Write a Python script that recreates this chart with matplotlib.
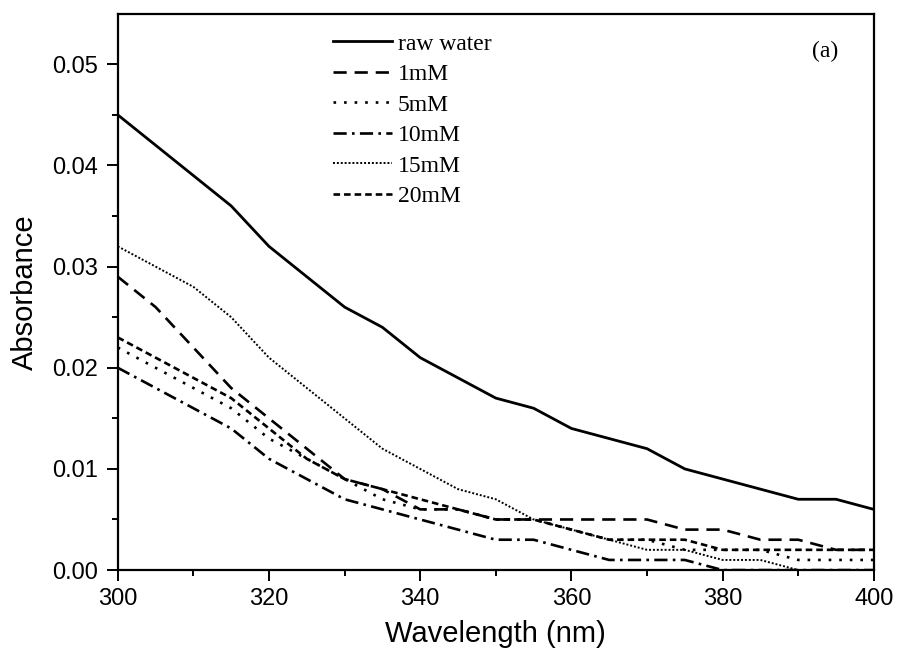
import matplotlib.pyplot as plt
import numpy as np

wl = np.arange(300, 401, 5)

raw_water = [0.045, 0.042, 0.039, 0.036, 0.032, 0.029, 0.026, 0.024, 0.021, 0.019, 0.017,
             0.016, 0.014, 0.013, 0.012, 0.010, 0.009, 0.008, 0.007, 0.007, 0.006]
mm1 = [0.029, 0.026, 0.022, 0.018, 0.015, 0.012, 0.009, 0.008, 0.006, 0.006, 0.005,
       0.005, 0.005, 0.005, 0.005, 0.004, 0.004, 0.003, 0.003, 0.002, 0.002]
mm5 = [0.022, 0.020, 0.018, 0.016, 0.013, 0.011, 0.009, 0.007, 0.006, 0.006, 0.005,
       0.005, 0.004, 0.003, 0.003, 0.002, 0.002, 0.002, 0.001, 0.001, 0.001]
mm10 = [0.020, 0.018, 0.016, 0.014, 0.011, 0.009, 0.007, 0.006, 0.005, 0.004, 0.003,
        0.003, 0.002, 0.001, 0.001, 0.001, 0.000, 0.000, 0.000, 0.000, 0.000]
mm15 = [0.032, 0.030, 0.028, 0.025, 0.021, 0.018, 0.015, 0.012, 0.010, 0.008, 0.007,
        0.005, 0.004, 0.003, 0.002, 0.002, 0.001, 0.001, 0.000, 0.000, 0.000]
mm20 = [0.023, 0.021, 0.019, 0.017, 0.014, 0.011, 0.009, 0.008, 0.007, 0.006, 0.005,
        0.005, 0.004, 0.003, 0.003, 0.003, 0.002, 0.002, 0.002, 0.002, 0.002]

labels = ["raw water", "1mM", "5mM", "10mM", "15mM", "20mM"]

fig = plt.figure(figsize=(8.99, 6.53), dpi=100)
ax = fig.add_axes([0.131, 0.127, 0.841, 0.852])

ax.plot(wl, raw_water, 'k-', lw=2.0)
ax.plot(wl, mm1, 'k', lw=1.9, dashes=(5, 3))
ax.plot(wl, mm5, 'k', lw=1.9, dashes=(1, 3))
ax.plot(wl, mm10, 'k', lw=1.9, dashes=(5, 2, 1, 2))
ax.plot(wl, mm15, 'k', lw=1.4, dashes=(1, 1))
ax.plot(wl, mm20, 'k', lw=1.9, dashes=(2.5, 1.5))

ax.set_xlim(300, 400)
ax.set_ylim(0, 0.055)
ax.set_xticks(np.arange(300, 401, 20))
ax.set_xticks(np.arange(300, 401, 10), minor=True)
ax.set_yticks(np.arange(0, 0.051, 0.01))
ax.set_yticks(np.arange(0, 0.051, 0.005), minor=True)
ax.set_yticklabels(["%.2f" % v for v in np.arange(0, 0.051, 0.01)])
ax.tick_params(which='major', length=8, width=1.4, labelsize=17, direction='out', pad=5)
ax.tick_params(axis='y', which='major', pad=6.5)
ax.tick_params(which='minor', length=4, width=1.4, direction='out')
for t in ax.get_xticklabels() + ax.get_yticklabels():
    t.set_family('Liberation Sans')
for s in ax.spines.values():
    s.set_linewidth(1.6)

ax.set_xlabel("Wavelength (nm)", fontsize=21, family='Liberation Sans', labelpad=7)
ax.set_ylabel("Absorbance", fontsize=21, family='Liberation Sans', labelpad=9)

leg = ax.legend(labels, loc='upper left', bbox_to_anchor=(333 / 899, 1 - 33 / 653),
                bbox_transform=fig.transFigure, frameon=False, borderpad=0, borderaxespad=0,
                prop={'family': 'Liberation Serif', 'size': 17}, handlelength=2.5,
                handletextpad=0.25, labelspacing=0.38)
ax.text(825 / 899, 1 - 51 / 653, "(a)", transform=fig.transFigure, fontsize=17,
        family='Liberation Serif', ha='center', va='center')

plt.savefig("out.png", dpi=100)
